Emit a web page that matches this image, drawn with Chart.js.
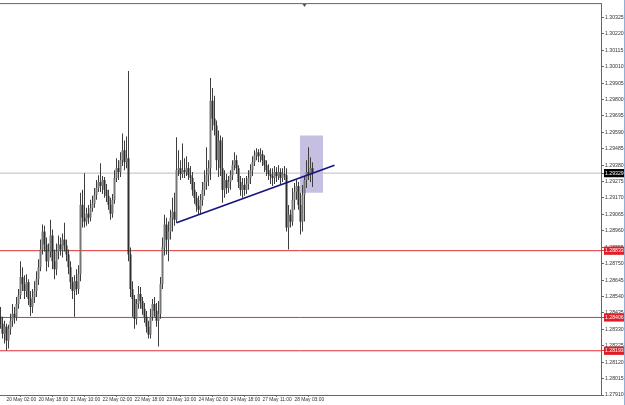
<!DOCTYPE html>
<html><head><meta charset="utf-8">
<script src="https://cdn.jsdelivr.net/npm/chart.js@4"></script>
<style>html,body{margin:0;padding:0;background:#fff;overflow:hidden}canvas{display:block}</style>
</head><body>
<canvas id="c" width="625" height="405"></canvas>
<script>
const opens = [
1.28410,1.28366,1.28302,1.28347,1.28258,1.28334,1.28385,1.28429,1.28410,1.28492,
1.28549,1.28664,1.28619,1.28575,1.28632,1.28524,1.28473,1.28537,1.28575,1.28651,
1.28727,1.28841,1.28955,1.28873,1.28765,1.28828,1.28930,1.28765,1.28714,1.28828,
1.28873,1.28841,1.28904,1.28866,1.28809,1.28727,1.28632,1.28575,1.28638,1.28588,
1.28683,1.29126,1.29044,1.29019,1.29069,1.29044,1.29107,1.29133,1.29190,1.29234,
1.29272,1.29247,1.29285,1.29222,1.29184,1.29126,1.29069,1.29158,1.29298,1.29361,
1.29336,1.29412,1.29475,1.29399,1.29424,1.28809,1.28588,1.28524,1.28397,1.28492,
1.28556,1.28511,1.28461,1.28410,1.28347,1.28296,1.28410,1.28492,1.28448,1.28385,
1.28429,1.28619,1.28854,1.29000,1.28904,1.28955,1.29044,1.29082,1.29031,1.29348,
1.29361,1.29323,1.29348,1.29336,1.29361,1.29316,1.29298,1.29222,1.29171,1.29120,
1.29095,1.29158,1.29222,1.29272,1.29316,1.29361,1.29792,1.29678,1.29634,1.29412,
1.29538,1.29361,1.29222,1.29285,1.29234,1.29272,1.29316,1.29380,1.29412,1.29361,
1.29272,1.29222,1.29253,1.29222,1.29260,1.29298,1.29348,1.29399,1.29443,1.29462,
1.29437,1.29450,1.29412,1.29380,1.29348,1.29323,1.29310,1.29298,1.29336,1.29310,
1.29336,1.29298,1.29323,1.29316,1.28981,1.29063,1.29019,1.29158,1.29209,1.29247,
1.29126,1.29019,1.29190,1.29285,1.29336,1.29316,1.29361];
const highs = [
1.28473,1.28410,1.28385,1.28366,1.28359,1.28429,1.28492,1.28473,1.28537,1.28588,
1.28765,1.28727,1.28676,1.28683,1.28651,1.28575,1.28588,1.28638,1.28702,1.28778,
1.28904,1.29000,1.28993,1.28917,1.28879,1.29031,1.28968,1.28841,1.28879,1.28930,
1.28917,1.28943,1.29012,1.28904,1.28841,1.28765,1.28664,1.28676,1.28714,1.28740,
1.29203,1.29222,1.29329,1.29107,1.29126,1.29158,1.29184,1.29234,1.29285,1.29316,
1.29393,1.29310,1.29304,1.29260,1.29222,1.29171,1.29196,1.29348,1.29424,1.29412,
1.29462,1.29583,1.29538,1.29564,1.29982,1.28854,1.28638,1.28549,1.28524,1.28607,
1.28600,1.28537,1.28499,1.28448,1.28385,1.28461,1.28524,1.28537,1.28499,1.28511,
1.28664,1.28917,1.29063,1.29044,1.29019,1.29095,1.29171,1.29203,1.29558,1.29475,
1.29412,1.29519,1.29424,1.29437,1.29399,1.29374,1.29336,1.29272,1.29209,1.29184,
1.29196,1.29272,1.29348,1.29494,1.29412,1.29938,1.29874,1.29824,1.29665,1.29602,
1.29570,1.29558,1.29348,1.29323,1.29310,1.29348,1.29412,1.29462,1.29443,1.29380,
1.29310,1.29298,1.29298,1.29310,1.29348,1.29386,1.29437,1.29475,1.29488,1.29481,
1.29488,1.29475,1.29443,1.29412,1.29386,1.29361,1.29361,1.29374,1.29367,1.29380,
1.29361,1.29361,1.29374,1.29361,1.29126,1.29095,1.29234,1.29266,1.29285,1.29272,
1.29203,1.29253,1.29310,1.29412,1.29494,1.29430,1.29399];
const lows = [
1.28334,1.28271,1.28239,1.28195,1.28207,1.28296,1.28347,1.28366,1.28385,1.28461,
1.28524,1.28575,1.28524,1.28537,1.28486,1.28416,1.28435,1.28499,1.28537,1.28613,
1.28702,1.28809,1.28828,1.28702,1.28727,1.28790,1.28714,1.28651,1.28676,1.28778,
1.28803,1.28790,1.28828,1.28765,1.28683,1.28588,1.28524,1.28410,1.28549,1.28556,
1.28638,1.28981,1.28981,1.28993,1.29006,1.29019,1.29082,1.29107,1.29158,1.29209,
1.29209,1.29196,1.29171,1.29145,1.29095,1.29031,1.29044,1.29133,1.29272,1.29285,
1.29304,1.29374,1.29348,1.29361,1.28765,1.28537,1.28410,1.28334,1.28359,1.28461,
1.28461,1.28423,1.28372,1.28309,1.28271,1.28271,1.28385,1.28410,1.28347,1.28220,
1.28397,1.28588,1.28803,1.28809,1.28765,1.28904,1.28955,1.28993,1.29012,1.29310,
1.29285,1.29298,1.29298,1.29310,1.29285,1.29260,1.29184,1.29133,1.29082,1.29063,
1.29069,1.29120,1.29184,1.29222,1.29247,1.29285,1.29602,1.29570,1.29348,1.29304,
1.29310,1.29139,1.29171,1.29196,1.29203,1.29222,1.29285,1.29348,1.29323,1.29234,
1.29184,1.29171,1.29184,1.29196,1.29222,1.29260,1.29310,1.29374,1.29412,1.29399,
1.29399,1.29374,1.29336,1.29310,1.29285,1.29260,1.29247,1.29260,1.29272,1.29285,
1.29260,1.29272,1.29285,1.28955,1.28841,1.28981,1.28993,1.29095,1.29158,1.29095,
1.28936,1.28955,1.29019,1.29234,1.29285,1.29272,1.29241];
const closes = [
1.28366,1.28302,1.28347,1.28258,1.28334,1.28385,1.28429,1.28410,1.28492,1.28549,
1.28664,1.28619,1.28575,1.28632,1.28524,1.28473,1.28537,1.28575,1.28651,1.28727,
1.28841,1.28955,1.28873,1.28765,1.28828,1.28930,1.28765,1.28714,1.28828,1.28873,
1.28841,1.28904,1.28866,1.28809,1.28727,1.28632,1.28575,1.28638,1.28588,1.28683,
1.29126,1.29044,1.29019,1.29069,1.29044,1.29107,1.29133,1.29190,1.29234,1.29272,
1.29247,1.29285,1.29222,1.29184,1.29126,1.29069,1.29158,1.29298,1.29361,1.29336,
1.29412,1.29475,1.29399,1.29424,1.28809,1.28588,1.28524,1.28397,1.28492,1.28556,
1.28511,1.28461,1.28410,1.28347,1.28296,1.28410,1.28492,1.28448,1.28385,1.28429,
1.28619,1.28854,1.29000,1.28904,1.28955,1.29044,1.29082,1.29031,1.29348,1.29361,
1.29323,1.29348,1.29336,1.29361,1.29316,1.29298,1.29222,1.29171,1.29120,1.29095,
1.29158,1.29222,1.29272,1.29316,1.29361,1.29792,1.29678,1.29634,1.29412,1.29538,
1.29361,1.29222,1.29285,1.29234,1.29272,1.29316,1.29380,1.29412,1.29361,1.29272,
1.29222,1.29253,1.29222,1.29260,1.29298,1.29348,1.29399,1.29443,1.29462,1.29437,
1.29450,1.29412,1.29380,1.29348,1.29323,1.29310,1.29298,1.29336,1.29310,1.29336,
1.29298,1.29323,1.29316,1.28981,1.29063,1.29019,1.29158,1.29209,1.29247,1.29126,
1.29019,1.29190,1.29285,1.29336,1.29316,1.29361,1.29329];

const xTickLabels = ['20 May 02:00','20 May 18:00','21 May 10:00','22 May 02:00','22 May 18:00','23 May 10:00','24 May 02:00','24 May 18:00','27 May 11:00','28 May 03:00'];
const xTickBars = [2,18,34,50,66,82,98,114,130,146];
const yTickValues = [1.27910,1.28015,1.28120,1.28225,1.28330,1.28435,1.28540,1.28645,1.28750,1.28855,1.28960,1.29065,1.29170,1.29275,1.29380,1.29485,1.29590,1.29695,1.29800,1.29905,1.30010,1.30115,1.30220,1.30325];
const currentPrice = 1.29329;
const levelPrices = [1.28833, 1.28406, 1.28193];
const trendBars = [88, 167];
const trendPrices = [1.29012, 1.29380];
const boxBars = [149.75, 161.25];
const boxPrices = [1.29203, 1.29570];

const X_MIN = -0.25, X_MAX = 300.25;
const YFONT = {family: 'Liberation Sans', size: 5.2};
const XFONT = {family: 'Liberation Sans', size: 4.9};

const wickData = highs.map((h, i) => ({x: i, y: [lows[i], h]}));
const bodyData = opens.map((o, i) => ({x: i, y: [o, closes[i]]}));
const bodyColors = opens.map((o, i) => closes[i] > o ? '#767676' : '#2e2e2e');

const datasets = [
  {type: 'line', data: [{x: boxBars[0], y: boxPrices[1]}, {x: boxBars[1], y: boxPrices[1]}],
   fill: {value: boxPrices[0]}, backgroundColor: 'rgb(198,191,225)', borderWidth: 0, pointRadius: 0, order: 10},
  {type: 'line', data: [{x: X_MIN, y: currentPrice}, {x: X_MAX, y: currentPrice}],
   borderColor: '#bdbdbd', borderWidth: 1, pointRadius: 0, fill: false, order: 6},
  ...levelPrices.map(lv => ({type: 'line', data: [{x: X_MIN, y: lv}, {x: X_MAX, y: lv}],
   borderColor: '#e03030', borderWidth: 1, pointRadius: 0, fill: false, order: 5})),
  {type: 'bar', data: wickData, backgroundColor: '#3e3e3e', barThickness: 1, grouped: false, inflateAmount: 0, borderWidth: 0, order: 3},
  {type: 'bar', data: bodyData, backgroundColor: bodyColors, barThickness: 2, grouped: false, inflateAmount: 0, borderWidth: 0, order: 2},
  {type: 'line', data: [{x: trendBars[0], y: trendPrices[0]}, {x: trendBars[1], y: trendPrices[1]}],
   borderColor: '#14147e', borderWidth: 1.6, pointRadius: 0, fill: false, order: 1}
];

const nBase = yTickValues.length;
const frame = {
  id: 'frame',
  afterDraw(chart) {
    const {ctx, chartArea: a} = chart;
    ctx.save();
    ctx.strokeStyle = '#666';
    ctx.lineWidth = 1;
    ctx.beginPath();
    ctx.moveTo(0, a.top - 0.5); ctx.lineTo(a.right + 1, a.top - 0.5);
    ctx.stroke();
    ctx.fillStyle = '#555';
    ctx.beginPath();
    const cx = (a.left + a.right) / 2 + 4;
    ctx.moveTo(cx - 2, a.top); ctx.lineTo(cx + 2, a.top); ctx.lineTo(cx, a.top + 3); ctx.closePath();
    ctx.fill();
    ctx.fillStyle = '#8fb0d8';
    ctx.fillRect(chart.width - 1, 0, 1, chart.height);
    ctx.restore();
  }
};

new Chart(document.getElementById('c'), {
  type: 'bar',
  data: {datasets},
  plugins: [frame],
  options: {
    responsive: false,
    animation: false,
    devicePixelRatio: 1,
    layout: {padding: {top: 3, left: 0, right: 0, bottom: 0}},
    plugins: {legend: {display: false}, tooltip: {enabled: false}},
    scales: {
      x: {
        type: 'linear', min: X_MIN, max: X_MAX, offset: false,
        afterBuildTicks: s => { s.ticks = xTickBars.map(v => ({value: v})); },
        afterFit: s => { s.height = 10; },
        grid: {drawOnChartArea: false, drawTicks: true, tickLength: 2, color: '#666'},
        border: {display: true, color: '#666', width: 1},
        ticks: {autoSkip: false, maxRotation: 0, minRotation: 0, align: 'start', padding: 0, labelOffset: 2,
          font: XFONT, color: '#333',
          callback: v => { const k = xTickBars.indexOf(v); return k >= 0 ? xTickLabels[k] : ''; }}
      },
      y: {
        type: 'linear', position: 'right', min: 1.27910, max: 1.30410,
        afterBuildTicks: s => { s.ticks = yTickValues.concat([currentPrice], levelPrices).map(v => ({value: v})); },
        afterFit: s => { s.width = 24; },
        grid: {drawOnChartArea: false, drawTicks: true, tickLength: 3,
          color: c => c.index > nBase ? '#e03030' : '#666'},
        border: {display: true, color: '#666', width: 1},
        ticks: {autoSkip: false, padding: 1, font: YFONT,
          color: c => c.index >= nBase ? '#ffffff' : '#333',
          showLabelBackdrop: true,
          backdropColor: c => c.index === nBase ? '#000000' : (c.index > nBase ? '#e01c24' : 'rgba(0,0,0,0)'),
          backdropPadding: {top: 1, bottom: 1, left: 1, right: 3},
          callback: v => v.toFixed(5)}
      }
    }
  }
});
</script>
</body></html>
